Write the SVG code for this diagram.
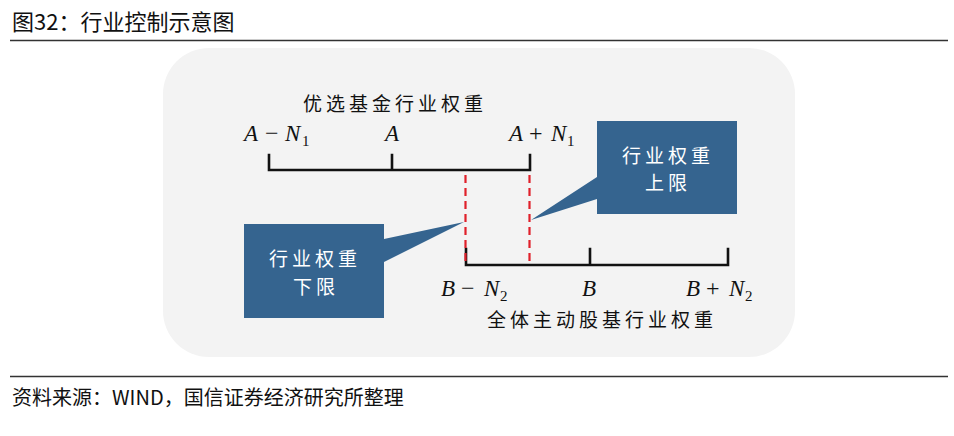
<svg xmlns="http://www.w3.org/2000/svg" width="954" height="436" viewBox="0 0 954 436">
<style>
.hdr{font-family:"Noto Sans CJK SC","Liberation Sans",sans-serif;fill:#111}
.cjk{font-family:"Noto Sans CJK SC",sans-serif;font-size:19px;letter-spacing:4px;fill:#111}
.wt{fill:#ffffff}
.math{font-family:"Liberation Serif",serif;font-size:23px;fill:#111}
.it{font-style:italic}
.op{font-size:24px}
.sub{font-size:15px}
.scale{stroke:#111;stroke-width:2.6;fill:none;stroke-linecap:square}
.red{stroke:#e0202a;stroke-width:2.2;stroke-dasharray:8 5;fill:none}
.box{fill:#35648f}
.rule{stroke:#333;stroke-width:1.5}
</style>
<rect width="954" height="436" fill="#ffffff"/>
<g id="title">
<text class="hdr" x="12" y="30" font-size="22">图32：行业控制示意图</text>
<line class="rule" x1="10" y1="40.5" x2="948" y2="40.5"/>
</g>
<rect id="panel" x="163" y="48" width="632" height="309" rx="46" fill="#f3f3f3"/>
<g id="top-scale">
<text class="cjk" x="303" y="111">优选基金行业权重</text>
<path class="scale" d="M269,155 V170 H530 V155 M392,155 V170"/>
<text class="math"><tspan class="it" x="244" y="141">A</tspan><tspan class="op" x="265" y="141">−</tspan><tspan class="it" x="285" y="141">N</tspan><tspan class="sub" x="302" y="146">1</tspan></text>
<text class="math"><tspan class="it" x="385" y="141">A</tspan></text>
<text class="math"><tspan class="it" x="509" y="141">A</tspan><tspan class="op" x="529" y="141">+</tspan><tspan class="it" x="551" y="141">N</tspan><tspan class="sub" x="567" y="146">1</tspan></text>
</g>
<g id="bottom-scale">
<path class="scale" d="M466,249 V265 H728 V249 M590,249 V265"/>
<text class="math"><tspan class="it" x="441" y="296">B</tspan><tspan class="op" x="461" y="296">−</tspan><tspan class="it" x="484" y="296">N</tspan><tspan class="sub" x="500" y="301">2</tspan></text>
<text class="math"><tspan class="it" x="582" y="296">B</tspan></text>
<text class="math"><tspan class="it" x="686" y="296">B</tspan><tspan class="op" x="706" y="296">+</tspan><tspan class="it" x="729" y="296">N</tspan><tspan class="sub" x="745" y="301">2</tspan></text>
<text class="cjk" x="487" y="327">全体主动股基行业权重</text>
</g>
<g id="connectors">
<line class="red" x1="465.5" y1="175" x2="465.5" y2="265"/>
<line class="red" x1="529.5" y1="175" x2="529.5" y2="265"/>
</g>
<g id="upper-callout">
<path class="box" d="M597,121 H737 V214 H597 V199 L531,220 L597,177 Z"/>
<text class="cjk wt" x="622" y="163">行业权重</text>
<text class="cjk wt" x="645" y="190">上限</text>
</g>
<g id="lower-callout">
<path class="box" d="M244,224 H384 V239 L464,222 L384,262 V318 H244 Z"/>
<text class="cjk wt" x="269" y="266">行业权重</text>
<text class="cjk wt" x="293" y="294">下限</text>
</g>
<g id="source">
<line class="rule" x1="10" y1="376.5" x2="948" y2="376.5"/>
<text class="hdr" x="12" y="405" font-size="20">资料来源：WIND，国信证券经济研究所整理</text>
</g>
</svg>
